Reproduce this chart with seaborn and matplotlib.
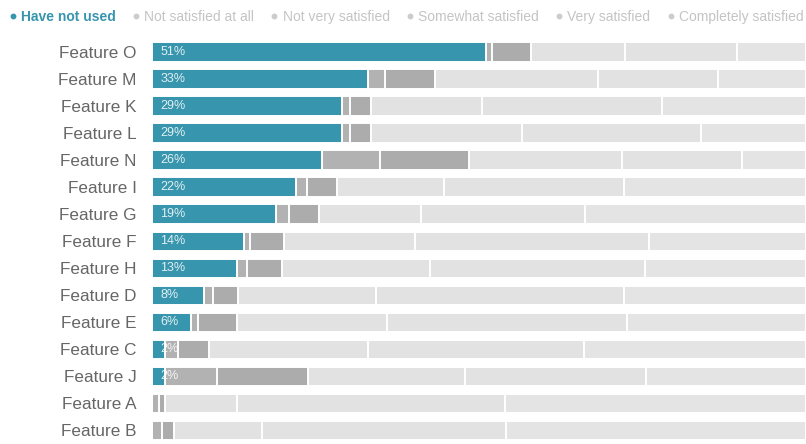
import matplotlib
matplotlib.use("Agg")
import matplotlib.pyplot as plt
from matplotlib.lines import Line2D
import seaborn as sns
import pandas as pd

features = ["Feature O", "Feature M", "Feature K", "Feature L", "Feature N", "Feature I",
            "Feature G", "Feature F", "Feature H", "Feature D", "Feature E", "Feature C",
            "Feature J", "Feature A", "Feature B"]
series_names = ["Have not used", "Not satisfied at all", "Not very satisfied",
                "Somewhat satisfied", "Very satisfied", "Completely satisfied"]
have_not_used = [51, 33, 29, 29, 26, 22, 19, 14, 13, 8, 6, 2, 2, 0, 0]
not_at_all = [1, 2.6, 1.2, 1.2, 8.9, 1.7, 2, 1, 1.5, 1.4, 1, 2, 8, 1, 1.5]
not_very = [6, 7.6, 3.3, 3.3, 13.5, 4.6, 4.6, 5.2, 5.4, 3.8, 6, 4.7, 13.8, 1, 1.8]
somewhat = [14.4, 25, 17, 23, 23.5, 16.4, 15.6, 20, 22.6, 21, 23, 24.3, 24, 11, 13.5]
very = [17, 18.3, 27.5, 27.5, 18.3, 27.5, 25, 35.8, 32.9, 38, 36.7, 33, 27.8, 41, 37.3]
completely = [10.6, 13.5, 22, 16, 9.8, 27.8, 33.8, 24, 24.6, 27.8, 27.3, 34, 24.4, 46, 45.9]

colors = ["#3795ad", "#b2b2b2", "#acacac", "#e2e2e2", "#e2e2e2", "#e4e4e4"]
label_font = "Liberation Sans"

sns.set_theme(style="white")
plt.rcParams["font.family"] = [label_font, "DejaVu Sans"]

df = pd.DataFrame({"feature": features, series_names[0]: have_not_used,
                   series_names[1]: not_at_all, series_names[2]: not_very,
                   series_names[3]: somewhat, series_names[4]: very,
                   series_names[5]: completely})
cum = df[series_names].cumsum(axis=1)

fig = plt.figure(figsize=(8.06, 4.44), dpi=100)
ax = fig.add_axes([152 / 806, 0, 654 / 806, 405.5 / 444])

for name, col in reversed(list(zip(series_names, colors))):
    sns.barplot(x=cum[name], y=df["feature"], orient="h", color=col,
                edgecolor="white", linewidth=1.4, width=0.72, ax=ax, saturation=1)

for i, v in enumerate(have_not_used):
    if v > 0:
        ax.text(1.3, i, f"{v}%", color="white", alpha=0.85, va="center", ha="left",
                fontsize=9)

ax.set_xlim(0, 100)
ax.set_ylim(14.5, -0.5)
ax.set_xlabel("")
ax.set_ylabel("")
ax.set_xticks([])
ax.tick_params(axis="y", length=0, pad=11, labelsize=12.3, labelcolor="#666666")
for s in ax.spines.values():
    s.set_visible(False)

handles = [Line2D([], [], marker="o", linestyle="", markersize=3.2,
                  color=("#3795ad" if i == 0 else "#cccccc")) for i in range(6)]
leg = fig.legend(handles, series_names, loc="center left",
                 bbox_to_anchor=(7 / 806, 1 - 17 / 444), ncol=6, frameon=False,
                 handletextpad=0.2, columnspacing=1.05, fontsize=10,
                 borderaxespad=0, handlelength=0.8, borderpad=0)
for i, t in enumerate(leg.get_texts()):
    if i == 0:
        t.set_color("#3795ad")
        t.set_fontweight("bold")
    else:
        t.set_color("#c4c4c4")

fig.savefig("out.png", dpi=100)
